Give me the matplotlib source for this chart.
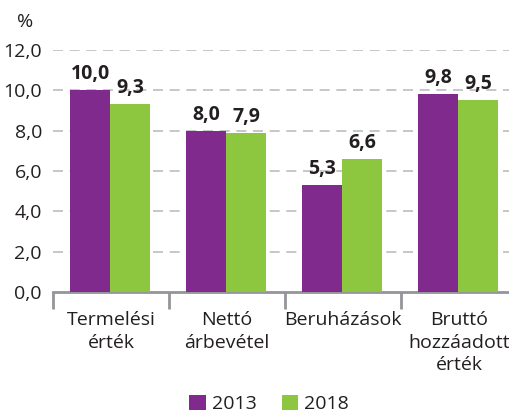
import numpy as np
import matplotlib.pyplot as plt

categories = ['Termelési\nérték', 'Nettó\nárbevétel', 'Beruházások', 'Bruttó\nhozzáadott\nérték']
years = ['2013', '2018']
v2013 = [10.0, 8.0, 5.3, 9.8]
v2018 = [9.3, 7.9, 6.6, 9.5]
yticks = [0, 2, 4, 6, 8, 10, 12]

purple = '#7f2a8c'
green = '#8dc63f'
txt = '#231f20'
grid = '#bcbec0'
fs = 14

plt.rcParams['font.family'] = ['Open Sans', 'DejaVu Sans']

W, H = 510, 413
fig = plt.figure(figsize=(W / 100, H / 100), dpi=100)
# axes: x from 53px to 517px (right end runs past the figure), y 0 at 292px, 12 at 50px
ax = fig.add_axes([53 / W, (H - 292) / H, 464 / W, 242 / H])

x = np.arange(len(categories)) + 0.5
bw = 40 / 116
ax.bar(x - bw / 2 - 0.008, v2013, bw, color=purple, zorder=3, label=years[0])
ax.bar(x + bw / 2 - 0.008, v2018, bw, color=green, zorder=3, label=years[1])

for i in range(len(categories)):
    ax.text(x[i] - bw / 2 - 0.008, v2013[i] + 0.3, f'{v2013[i]:.1f}'.replace('.', ','),
            ha='center', va='bottom', fontsize=fs, fontweight='bold', color=txt)
    ax.text(x[i] + bw / 2 - 0.008, v2018[i] + 0.3, f'{v2018[i]:.1f}'.replace('.', ','),
            ha='center', va='bottom', fontsize=fs, fontweight='bold', color=txt)

ax.set_xlim(0, 4)
ax.set_ylim(0, 12)
ax.set_yticks(yticks)
ax.set_yticklabels([f'{v:.1f}'.replace('.', ',') for v in yticks], fontsize=fs, color=txt)
ax.tick_params(axis='y', length=0, pad=8)
for v in yticks[1:]:
    ax.axhline(v, color=grid, lw=1.2, ls=(0, (6, 4)), zorder=1)

ax.set_xticks([0, 1, 2, 3, 4])
ax.set_xticklabels([])
ax.tick_params(axis='x', direction='out', length=12, width=2, color='#939598')
ax.set_xticks(x, minor=True)
ax.set_xticklabels(categories, minor=True, fontsize=fs, color=txt, linespacing=1.3)
ax.tick_params(axis='x', which='minor', length=0, pad=14)

for s in ['top', 'right', 'left']:
    ax.spines[s].set_visible(False)
ax.spines['bottom'].set_color('#939598')
ax.spines['bottom'].set_linewidth(2)

fig.text(17 / W, 1 - 22 / H, '%', fontsize=fs, color=txt, va='center', ha='left')

fig.legend(loc='center', bbox_to_anchor=(269 / W, 9 / H), ncol=2,
           frameon=False, fontsize=fs, handlelength=0.85, handleheight=0.85,
           handletextpad=0.3, columnspacing=1.3, labelcolor=txt,
           borderpad=0, borderaxespad=0)

fig.savefig('out.png', dpi=100)
